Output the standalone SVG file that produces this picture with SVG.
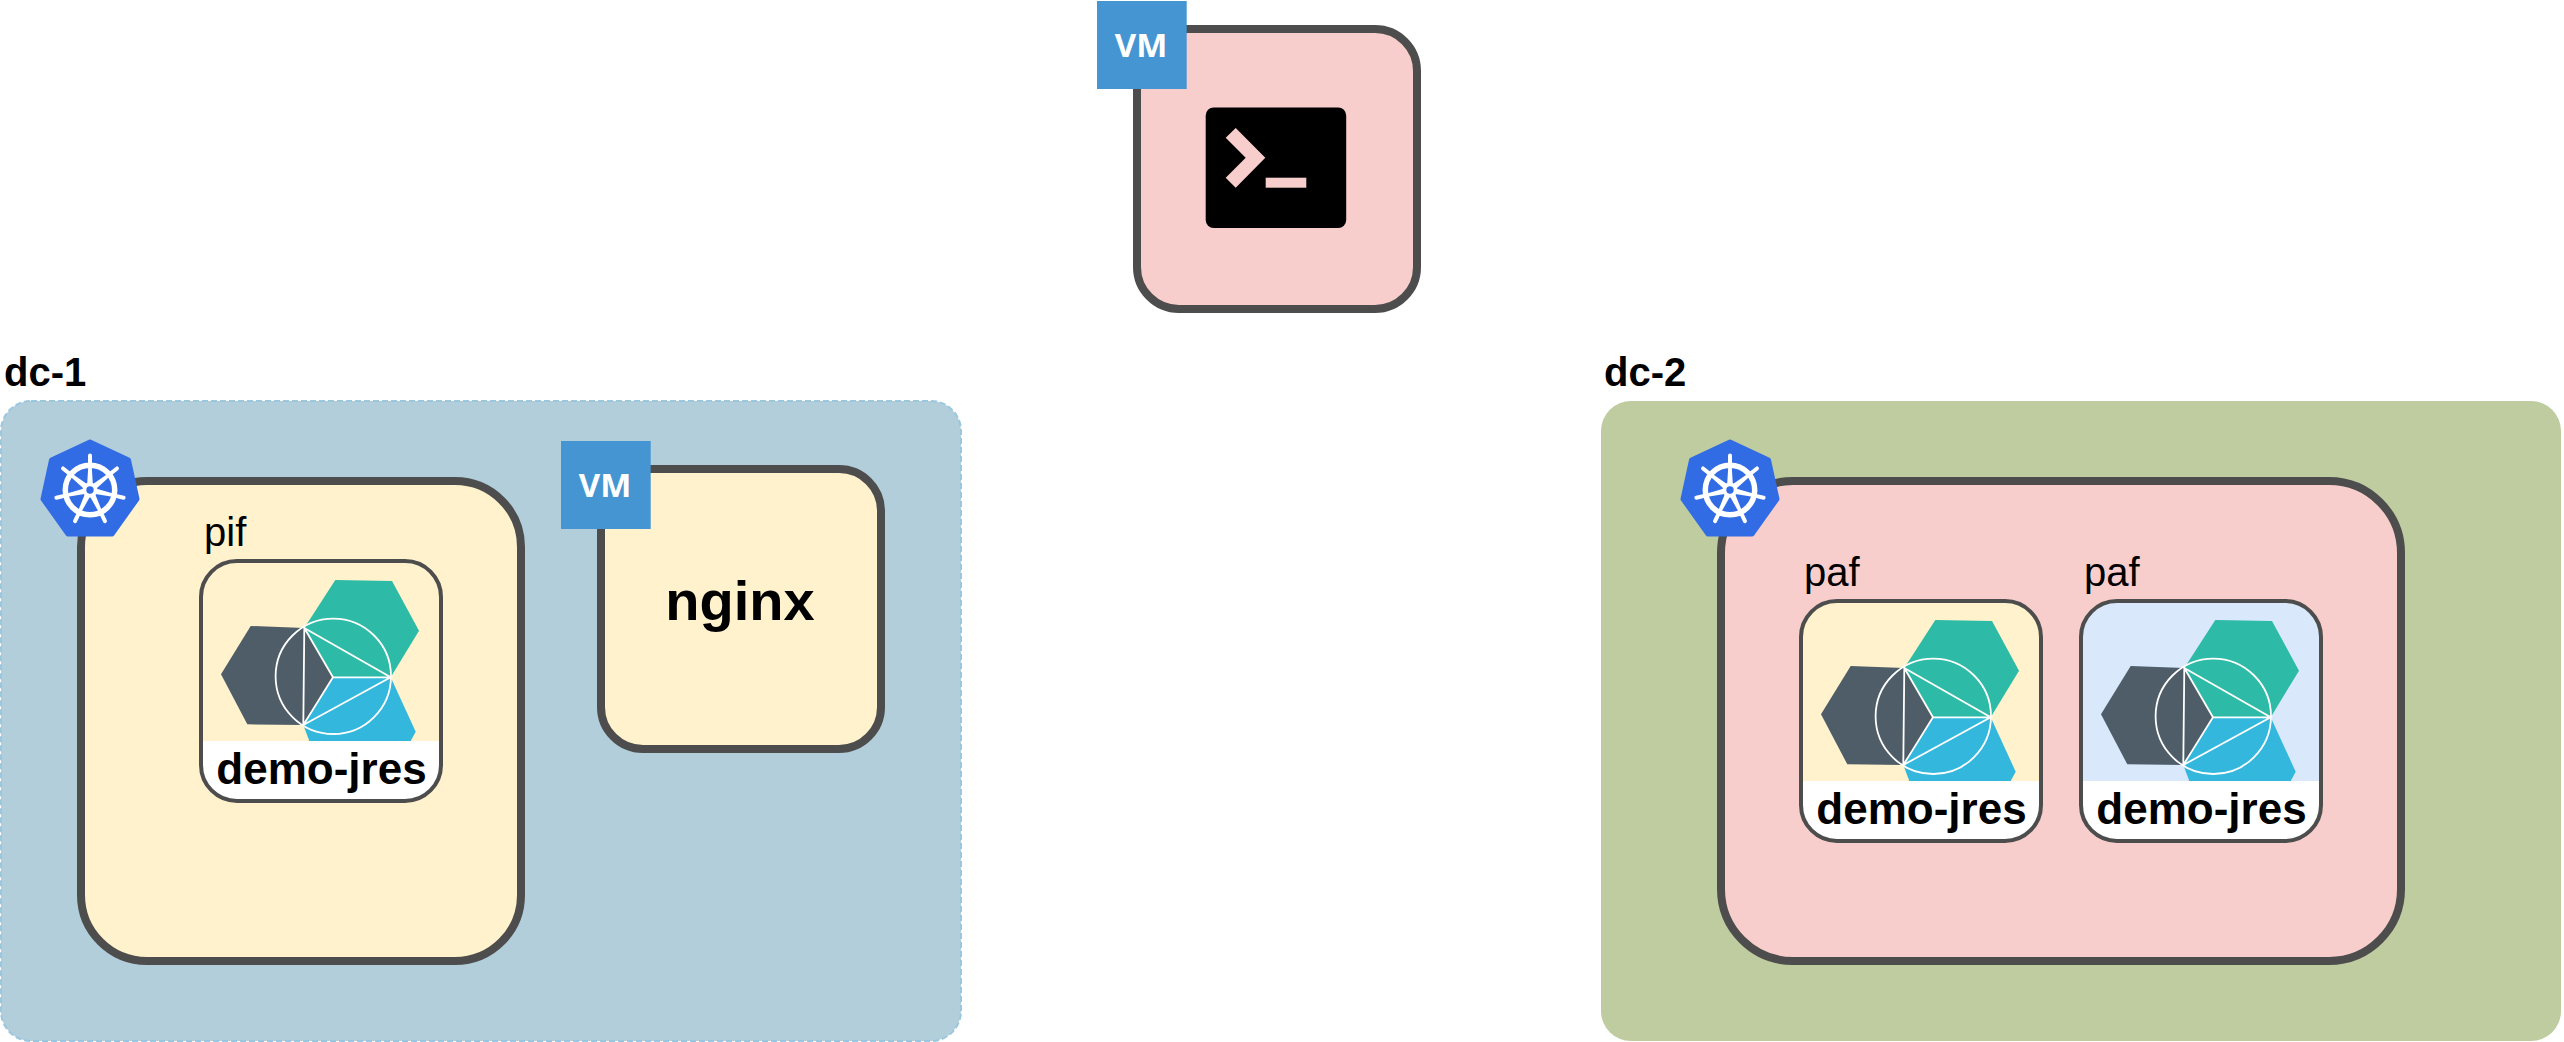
<svg xmlns="http://www.w3.org/2000/svg" width="2564" height="1042" viewBox="0 0 2564 1042">
<style>
text{font-family:"Liberation Sans",Arial,sans-serif;fill:#000}
.b{font-weight:700}
.dc{font-size:40px;font-weight:700}
.lbl{font-size:40px}
.app{font-size:44px;font-weight:700;text-anchor:middle}
.vm{font-family:"Open Sans","Liberation Sans",sans-serif;font-size:33px;font-weight:700;fill:#fff;text-anchor:middle}
.main{stroke:#4d4d4d;stroke-width:8}
.appbox{fill:none;stroke:#4d4d4d;stroke-width:4}
.badge{fill:#4495d2}
</style>
<defs>
<g id="logo">
<polygon points="134.3,19 191,20 218,69.7 189.7,116.3 132,116.3 103.3,67" fill="#2dbaa7"/>
<polygon points="49.7,65 103.3,67 132,116.3 102.3,164 46.3,163.3 20,113.3" fill="#4e5d68"/>
<polygon points="132,116.3 189.7,116.3 214.7,170.7 209.7,180 108.3,180 102.3,164" fill="#33b7dd"/>
<g fill="none" stroke="#fff" stroke-width="1.8">
<circle cx="132.3" cy="115.3" r="57.7"/>
<path d="M103.3,67 L102.3,164 L189.7,116.3 Z M103.3,67 L132,116.3 L102.3,164 M132,116.3 H189.7"/>
</g>
</g>
<path id="strip" d="M0,180 H240 V204 A36,36 0 0 1 204,240 H36 A36,36 0 0 1 0,204 Z" fill="#fff"/>
<g id="spoke">
<polygon points="-3.2,0 3.2,0 1.6,-25 -1.6,-25" fill="#fff"/>
<line x1="0" y1="-24" x2="0" y2="-34.5" stroke="#fff" stroke-width="4" stroke-linecap="round"/>
</g>
<g id="k8s">
<polygon points="0,-48 38.5,-30 47,9 22,44 -22,44 -47,9 -38.5,-30" fill="#326ce5" stroke="#326ce5" stroke-width="5" stroke-linejoin="round"/>
<circle r="24.7" fill="none" stroke="#fff" stroke-width="5.5"/>
<use href="#spoke"/>
<use href="#spoke" transform="rotate(51.43)"/>
<use href="#spoke" transform="rotate(102.86)"/>
<use href="#spoke" transform="rotate(154.29)"/>
<use href="#spoke" transform="rotate(205.71)"/>
<use href="#spoke" transform="rotate(257.14)"/>
<use href="#spoke" transform="rotate(308.57)"/>
<circle r="7.5" fill="#fff"/>
<circle r="3.7" fill="#326ce5"/>
</g>
</defs>

<g id="dc-1">
<rect x="1" y="401" width="960" height="640" rx="30" ry="30" fill="#b2cedb" stroke="#9ac7de" stroke-width="2" stroke-dasharray="6 3"/>
<text class="dc" x="4" y="386">dc-1</text>
</g>
<g id="dc-2">
<rect x="1601" y="401" width="960" height="640" rx="30" ry="30" fill="#bfcca0"/>
<text class="dc" x="1604" y="386">dc-2</text>
</g>

<g id="vm-terminal">
<rect class="main" x="1137" y="29" width="280" height="280" rx="42" ry="42" fill="#f8cecc"/>
<rect x="1205.7" y="107.5" width="140.5" height="120.5" rx="8" ry="8" fill="#000"/>
<polygon points="1225.7,137.7 1235.7,128 1265.3,157.7 1235.7,187.7 1225.7,177.7 1245.7,157.7" fill="#f8cecc"/>
<rect x="1265.7" y="177.7" width="40.6" height="10" fill="#f8cecc"/>
<rect class="badge" x="1097" y="1" width="89.7" height="88"/>
<text class="vm" x="1141" y="57.3">VM</text>
</g>

<g id="k8s-dc-1">
<rect class="main" x="81" y="481" width="440" height="480" rx="66" ry="66" fill="#fff2cc"/>
<use href="#k8s" x="90" y="490"/>
</g>
<g id="app-pif" transform="translate(201,561)">
<use href="#logo"/>
<use href="#strip"/>
<rect class="appbox" x="0" y="0" width="240" height="240" rx="36" ry="36"/>
<text class="lbl" x="3" y="-15.5">pif</text>
<text class="app" x="120.5" y="223">demo-jres</text>
</g>

<g id="vm-nginx">
<rect class="main" x="601" y="469" width="280" height="280" rx="42" ry="42" fill="#fff2cc"/>
<text class="b" x="740" y="620" font-size="56" text-anchor="middle">nginx</text>
<rect class="badge" x="561" y="441" width="89.7" height="88"/>
<text class="vm" x="605" y="497.3">VM</text>
</g>

<g id="k8s-dc-2">
<rect class="main" x="1721" y="481" width="680" height="480" rx="72" ry="72" fill="#f8cecc"/>
<use href="#k8s" x="1730" y="490"/>
</g>
<g id="app-paf-1" transform="translate(1801,601)">
<rect x="0" y="0" width="240" height="240" rx="36" ry="36" fill="#fff2cc"/>
<use href="#logo"/>
<use href="#strip"/>
<rect class="appbox" x="0" y="0" width="240" height="240" rx="36" ry="36"/>
<text class="lbl" x="3" y="-15.5">paf</text>
<text class="app" x="120.5" y="223">demo-jres</text>
</g>
<g id="app-paf-2" transform="translate(2081,601)">
<rect x="0" y="0" width="240" height="240" rx="36" ry="36" fill="#dae8fc"/>
<use href="#logo"/>
<use href="#strip"/>
<rect class="appbox" x="0" y="0" width="240" height="240" rx="36" ry="36"/>
<text class="lbl" x="3" y="-15.5">paf</text>
<text class="app" x="120.5" y="223">demo-jres</text>
</g>
</svg>
